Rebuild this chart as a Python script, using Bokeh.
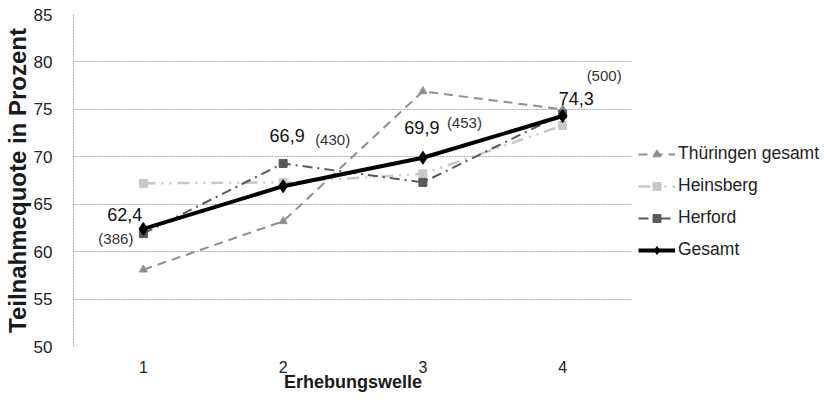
from bokeh.plotting import figure
from bokeh.models import ColumnDataSource, Legend, LegendItem, FixedTicker, Range1d
from bokeh.core.properties import value
from bokeh.embed import file_html
from bokeh.resources import INLINE

wellen = [1, 2, 3, 4]
thueringen = [58.1, 63.2, 76.9, 75.0]
heinsberg = [67.2, 67.3, 68.2, 73.3]
herford = [61.9, 69.3, 67.3, 74.5]
gesamt = [62.4, 66.9, 69.9, 74.3]
fallzahlen = [386, 430, 453, 500]
y_ticks = [50, 55, 60, 65, 70, 75, 80, 85]

FONT = "Liberation Sans"

p = figure(frame_width=559, frame_height=332, output_backend="svg", toolbar_location=None,
           x_range=Range1d(0.5, 4.5), y_range=Range1d(50, 85),
           min_border_left=60, min_border_right=10, min_border_top=14, min_border_bottom=45)
p.outline_line_color = None
p.background_fill_color = "white"
p.border_fill_color = "white"

p.xgrid.grid_line_color = None
p.ygrid.grid_line_color = "#ababab"
p.ygrid.grid_line_dash = "2 1"
p.ygrid.grid_line_width = 1

p.yaxis.ticker = FixedTicker(ticks=y_ticks)
p.xaxis.ticker = FixedTicker(ticks=wellen)
for ax in (p.xaxis, p.yaxis):
    ax.major_tick_line_color = None
    ax.minor_tick_line_color = None
    ax.major_label_text_font = FONT
    ax.major_label_text_color = "#222222"
    ax.axis_label_text_font = FONT
    ax.axis_label_text_font_style = "bold"
    ax.axis_label_text_color = "#1a1a1a"
p.xaxis.axis_line_color = None
p.yaxis.axis_line_color = "#b0b0b0"
p.yaxis.axis_line_dash = "2 1"
p.yaxis.major_label_text_font_size = "17px"
p.xaxis.major_label_text_font_size = "16px"
p.yaxis.major_label_standoff = 15
p.xaxis.major_label_standoff = 8
p.yaxis.axis_label = "Teilnahmequote in Prozent"
p.xaxis.axis_label = "Erhebungswelle"
p.yaxis.axis_label_text_font_size = "24px"
p.xaxis.axis_label_text_font_size = "18px"
p.yaxis.axis_label_standoff = 0
p.xaxis.axis_label_standoff = -4

series = [
    ("Thüringen gesamt", thueringen, "#8f8f8f", 2, "9 6", "triangle", 8),
    ("Heinsberg", heinsberg, "#c8c8c8", 2.5, "12 6 2 6 2 6", "square", 8),
    ("Herford", herford, "#595959", 2, "10 5 2 5", "square", 8),
    ("Gesamt", gesamt, "#000000", 4, "solid", "diamond", 13),
]
items = []
for name, vals, col, lw, dash, marker, size in series:
    src = ColumnDataSource(dict(x=wellen, y=vals))
    r1 = p.line("x", "y", source=src, line_color=col, line_width=lw, line_dash=dash)
    r2 = p.scatter("x", "y", source=src, marker=marker, size=size, fill_color=col, line_color=col)
    items.append(LegendItem(label=name, renderers=[r1, r2]))

legend = Legend(items=items, location=(6, 86), orientation="vertical",
                glyph_width=37, glyph_height=20, label_height=20, spacing=11,
                label_standoff=3, padding=0, margin=0,
                border_line_color=None, background_fill_alpha=0,
                label_text_font=FONT, label_text_font_size="17.5px",
                label_text_color="#222222")
p.add_layout(legend, "right")

# value labels for Gesamt
val_src = ColumnDataSource(dict(
    x=wellen, y=gesamt,
    text=[f"{v:.1f}".replace(".", ",") for v in gesamt],
    xo=[-1, 4, -1, -4], yo=[-14, -51, -30, -17],
    align=["right", "center", "center", "left"],
))
p.text("x", "y", text="text", source=val_src, x_offset="xo", y_offset="yo",
       text_align="align", text_baseline="middle",
       text_font=value(FONT), text_font_size="18px", text_color="#111111")

n_src = ColumnDataSource(dict(
    x=wellen, y=gesamt,
    text=[f"({n})" for n in fallzahlen],
    xo=[-10, 32, 24, 24], yo=[10, -47, -35, -40],
    align=["right", "left", "left", "left"],
))
p.text("x", "y", text="text", source=n_src, x_offset="xo", y_offset="yo",
       text_align="align", text_baseline="middle",
       text_font=value(FONT), text_font_size="15px", text_color="#333333")

open("out.html", "w").write(file_html(p, INLINE))
